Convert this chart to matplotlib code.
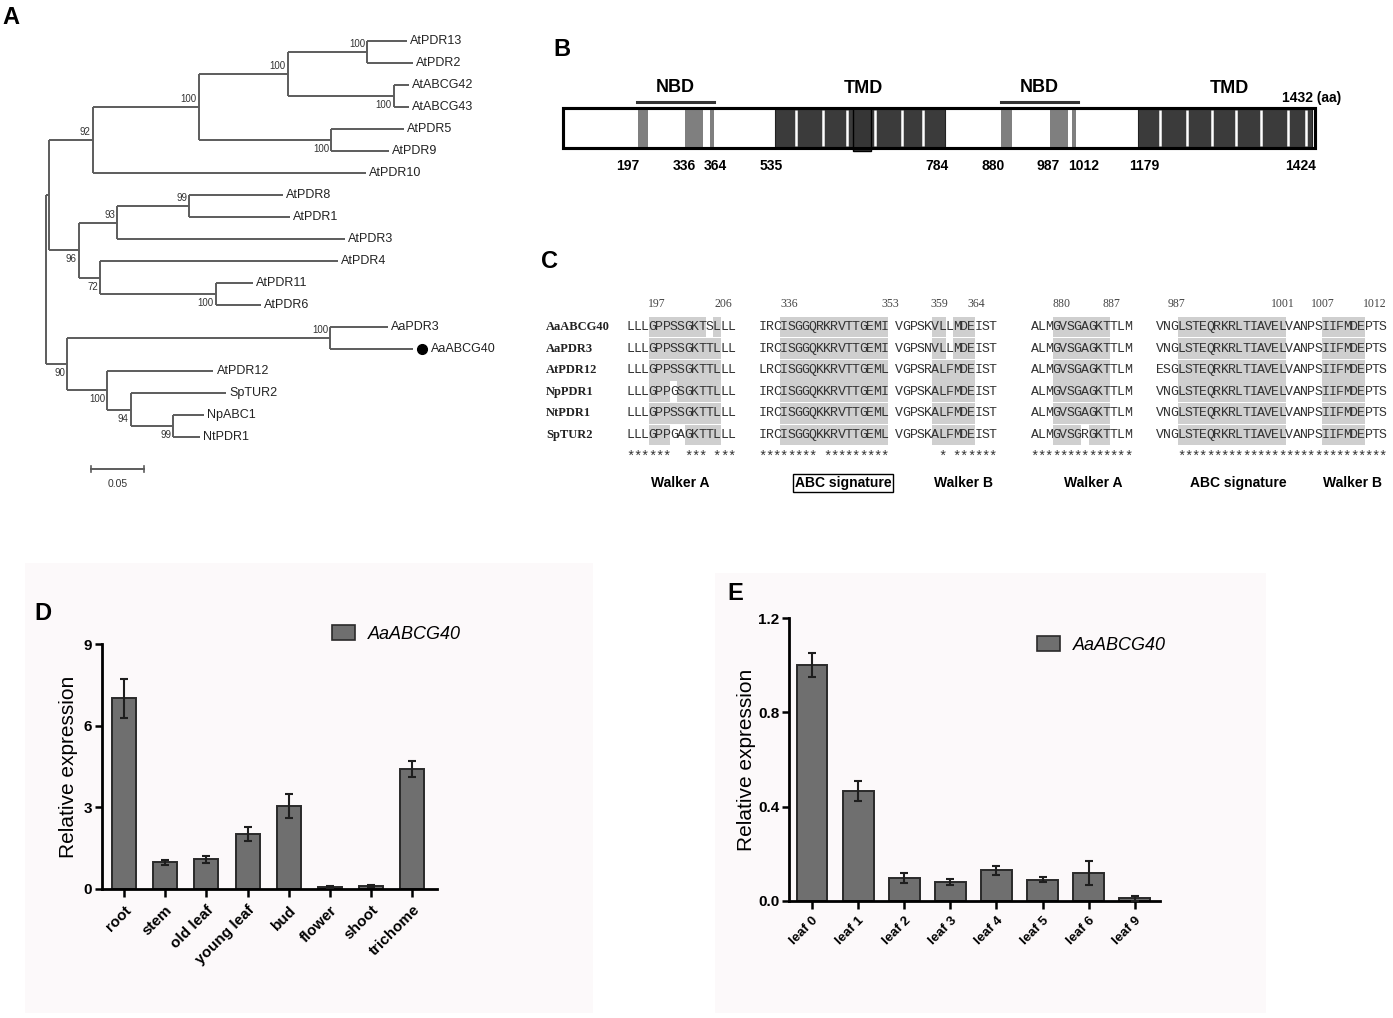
import matplotlib.pyplot as plt
from matplotlib.patches import Rectangle, Patch
from collections import defaultdict

plt.rcParams['font.family'] = ['Liberation Sans', 'DejaVu Sans']

# ---------------- data ----------------
# A: neighbour-joining tree, (parent, child, branch length)
tree_edges = [
    ('root', 'cA', 0.003), ('root', 'n90', 0.020),
    ('cA', 'n92', 0.041), ('cA', 'n96', 0.028),
    ('n92', 'n100a', 0.100), ('n92', 'AtPDR10', 0.258),
    ('n100a', 'n100b', 0.084), ('n100a', 'n100e', 0.125),
    ('n100b', 'n100c', 0.075), ('n100b', 'n100d', 0.100),
    ('n100c', 'AtPDR13', 0.038), ('n100c', 'AtPDR2', 0.043),
    ('n100d', 'AtABCG42', 0.014), ('n100d', 'AtABCG43', 0.014),
    ('n100e', 'AtPDR5', 0.069), ('n100e', 'AtPDR9', 0.055),
    ('n96', 'n93', 0.036), ('n96', 'n72', 0.020),
    ('n93', 'n99a', 0.068), ('n93', 'AtPDR3', 0.215),
    ('n99a', 'AtPDR8', 0.089), ('n99a', 'AtPDR1', 0.095),
    ('n72', 'AtPDR4', 0.224), ('n72', 'n100f', 0.109),
    ('n100f', 'AtPDR11', 0.035), ('n100f', 'AtPDR6', 0.043),
    ('n90', 'n100g', 0.248), ('n90', 'n100h', 0.038),
    ('n100g', 'AaPDR3', 0.055), ('n100g', 'AaABCG40', 0.078),
    ('n100h', 'AtPDR12', 0.100), ('n100h', 'n94', 0.022),
    ('n94', 'SpTUR2', 0.090), ('n94', 'n99b', 0.040),
    ('n99b', 'NpABC1', 0.029), ('n99b', 'NtPDR1', 0.025),
]
bootstrap = {'n92': '92', 'n100a': '100', 'n100b': '100', 'n100c': '100',
             'n100d': '100', 'n100e': '100', 'n96': '96', 'n93': '93',
             'n99a': '99', 'n72': '72', 'n100f': '100', 'n90': '90',
             'n100g': '100', 'n100h': '100', 'n94': '94', 'n99b': '99'}
boot_above = ['n92', 'n100a', 'n100b', 'n100c', 'n93', 'n99a', 'n100g']
marked_gene = 'AaABCG40'
scale_len = 0.05

# B: domain structure
protein_len = 1432
nbd_motifs = [(143, 162), (234, 267), (280, 288), (834, 855), (927, 962), (969, 977)]
nbd_bars = [(142, 288), (834, 981)]
tmd_spans = [(404, 727), (1095, 1426)]
tmd_gaps = [444, 495, 541, 594, 646, 686, 1137, 1188, 1236, 1282, 1329, 1380, 1415]
b_marks = ['197', '336', '364', '535', '784', '880', '987', '1012', '1179', '1424']
b_mark_pos = [125, 231, 290, 397, 713, 819, 924, 992, 1107, 1405]

# C: alignment
seq_names = ['AaABCG40', 'AaPDR3', 'AtPDR12', 'NpPDR1', 'NtPDR1', 'SpTUR2']
blk1 = ['LLLGPPSSGKTSLLL', 'LLLGPPSSGKTTLLL', 'LLLGPPSSGKTTLLL',
        'LLLGPPGSGKTTLLL', 'LLLGPPSSGKTTLLL', 'LLLGPPGAGKTTLLL']
blk2 = ['IRCISGGQRKRVTTGEMI VGPSKVLLMDEIST', 'IRCISGGQKKRVTTGEMI VGPSNVLLMDEIST',
        'LRCISGGQKKRVTTGEML VGPSRALFMDEIST', 'IRCISGGQKKRVTTGEMI VGPSKALFMDEIST',
        'IRCISGGQKKRVTTGEML VGPSKALFMDEIST', 'IRCISGGQKKRVTTGEML VGPSKALFMDEIST']
blk3 = ['ALMGVSGAGKTTLM'] * 5 + ['ALMGVSGRGKTTLM']
blk4 = ['VNGLSTEQRKRLTIAVELVANPSIIFMDEPTS', 'VNGLSTEQRKRLTIAVELVANPSIIFMDEPTS',
        'ESGLSTEQRKRLTIAVELVANPSIIFMDEPTS', 'VNGLSTEQRKRLTIAVELVANPSIIFMDEPTS',
        'VNGLSTEQRKRLTIAVELVANPSIIFMDEPTS', 'VNGLSTEQRKRLTIAVELVANPSIIFMDEPTS']
stars = ['******  *** ***', '******** *********       * ******',
         '**************', '   ' + '*' * 29]
hl1 = [[(3, 10), (12, 12)], [(3, 12)], [(3, 12)], [(3, 5), (7, 12)], [(3, 12)], [(3, 5), (8, 12)]]
hl2 = [[(3, 17), (24, 25), (27, 29)]] * 2 + [[(3, 17), (24, 29)]] * 4
hl3 = [[(3, 10)]] * 5 + [[(3, 6), (8, 10)]]
hl4 = [[(3, 17), (23, 28)]] * 6
res_labels = [['197', '206'], ['336', '353', '359', '364'], ['880', '887'], ['987', '1001', '1007', '1012']]
res_cols = [[3.7, 12.9], [3.8, 17.8, 24.6, 29.7], [3.8, 10.7], [2.3, 17.1, 22.7, 29.9]]
motifs = ['Walker A', 'ABC signature', 'Walker B', 'Walker A', 'ABC signature', 'Walker B']
motif_x = [7.4, 30.0, 46.7, 64.7, 84.9, 100.8]

# D: tissues
tissues = ['root', 'stem', 'old leaf', 'young leaf', 'bud', 'flower', 'shoot', 'trichome']
tissue_expr = [7.00, 0.98, 1.10, 2.02, 3.06, 0.07, 0.10, 4.41]
tissue_err = [0.70, 0.10, 0.13, 0.25, 0.44, 0.03, 0.04, 0.28]

# E: leaf ages
leaves = ['leaf 0', 'leaf 1', 'leaf 2', 'leaf 3', 'leaf 4', 'leaf 5', 'leaf 6', 'leaf 9']
leaf_expr = [1.000, 0.467, 0.099, 0.081, 0.130, 0.091, 0.119, 0.011]
leaf_err = [0.050, 0.043, 0.021, 0.013, 0.020, 0.010, 0.050, 0.012]

# ---------------- figure ----------------
W, H = 1393, 1018
fig = plt.figure(figsize=(W / 100, H / 100), dpi=100)


def px_axes(x0, y0, x1, y1):
    return fig.add_axes([x0 / W, 1 - y1 / H, (x1 - x0) / W, (y1 - y0) / H])


def panel_letter(x, y, s):
    fig.text(x / W, 1 - y / H, s, fontsize=17, fontweight='bold', ha='center', va='center')


# ---- A: tree ----
axA = px_axes(0, 0, 540, 500)
axA.set_xlim(-46 / 1060, 494 / 1060)
axA.set_ylim((500 - 41) / 22, -41 / 22)
axA.axis('off')

children = defaultdict(list)
for p, c, l in tree_edges:
    children[p].append((c, l))
xs, ys = {'root': 0.0}, {}
leaf_order = []


def place(node):
    if node not in children:
        ys[node] = len(leaf_order)
        leaf_order.append(node)
        return
    for c, l in children[node]:
        xs[c] = xs[node] + l
        place(c)
    ys[node] = (ys[children[node][0][0]] + ys[children[node][-1][0]]) / 2


place('root')
tree_col = '#5c5c5c'
for node, kids in children.items():
    axA.plot([xs[node]] * 2, [ys[kids[0][0]], ys[kids[-1][0]]], color=tree_col, lw=1.4,
             solid_capstyle='butt')
    for c, l in kids:
        axA.plot([xs[node], xs[c]], [ys[c]] * 2, color=tree_col, lw=1.4, solid_capstyle='butt')
for node, txt in bootstrap.items():
    if node in boot_above:
        axA.annotate(txt, (xs[node], ys[node]), xytext=(-2, 3), textcoords='offset pixels',
                     ha='right', va='bottom', fontsize=7, color='#333333')
    else:
        axA.annotate(txt, (xs[node], ys[node]), xytext=(-2, -4), textcoords='offset pixels',
                     ha='right', va='top', fontsize=7, color='#333333')
for leaf in leaf_order:
    dx = 3
    if leaf == marked_gene:
        axA.plot(xs[leaf] + 9 / 1060, ys[leaf], 'o', color='black', ms=7)
        dx = 18
    axA.annotate(leaf, (xs[leaf], ys[leaf]), xytext=(dx, 0), textcoords='offset pixels',
                 ha='left', va='center', fontsize=9, color='#222222')
sb_x, sb_y = 45 / 1060, (469 - 41) / 22
axA.plot([sb_x, sb_x + scale_len], [sb_y, sb_y], color=tree_col, lw=1.4)
axA.plot([sb_x] * 2, [sb_y - 0.15, sb_y + 0.15], color=tree_col, lw=1.2)
axA.plot([sb_x + scale_len] * 2, [sb_y - 0.15, sb_y + 0.15], color=tree_col, lw=1.2)
axA.text(sb_x + scale_len / 2, sb_y + 0.45, str(scale_len), ha='center', va='top',
         fontsize=7.5, color='#333333')
panel_letter(11, 18, 'A')

# ---- B: domain diagram ----
axB = px_axes(555, 70, 1360, 180)
sx = 1431 / 752
axB.set_xlim(1 + (555 - 563) * sx, 1 + (1360 - 563) * sx)
axB.set_ylim((148 - 180) / 40, (148 - 70) / 40)
axB.axis('off')
axB.add_patch(Rectangle((1, 0), protein_len - 1, 1, fc='white', ec='black', lw=2.2, zorder=1))
for a, b in nbd_motifs:
    axB.add_patch(Rectangle((a, 0.03), b - a, 0.94, fc='#7f7f7f', ec='none', zorder=2))
for a, b in tmd_spans:
    axB.add_patch(Rectangle((a, 0.02), b - a, 0.96, fc='#3b3b3b', ec='#222222', lw=0.8, zorder=2))
axB.vlines(tmd_gaps, 0.04, 0.96, colors='white', lw=1.8, zorder=3)
axB.add_patch(Rectangle((552, -0.07), 36, 1.07, fc='#363636', ec='black', lw=1.0, zorder=4))
axB.add_patch(Rectangle((1, 0), protein_len - 1, 1, fc='none', ec='black', lw=2.2, zorder=5))
for a, b in nbd_bars:
    axB.plot([a, b], [1.15, 1.15], color='#333333', lw=2.2)
    axB.text((a + b) / 2, 1.5, 'NBD', ha='center', va='center', fontsize=13, fontweight='bold')
for a, b in tmd_spans:
    axB.text((a + b) / 2 + 8, 1.48, 'TMD', ha='center', va='center', fontsize=13, fontweight='bold')
axB.text(1425, 1.25, '%d (aa)' % protein_len, ha='center', va='center', fontsize=10,
         fontweight='bold')
for s, x in zip(b_marks, b_mark_pos):
    axB.text(x, -0.45, s, ha='center', va='center', fontsize=10, fontweight='bold')
panel_letter(562, 50, 'B')

# ---- C: alignment ----
axC = px_axes(540, 285, 1393, 500)
cw, rh = 7.2, 21.6
axC.set_xlim((540 - 627) / cw, (1393 - 627) / cw)
axC.set_ylim((500 - 327) / rh, (285 - 327) / rh)
axC.axis('off')
blocks = [blk1, blk2, blk3, blk4]
highlights = [hl1, hl2, hl3, hl4]
block_start = [0.0, 18.3, 56.1, 73.5]
for i, name in enumerate(seq_names):
    axC.text((546 - 627) / cw, i, name, ha='left', va='center', fontsize=9,
             fontweight='bold', family='Liberation Serif', color='#222222')
for b, seqs in enumerate(blocks):
    x0 = block_start[b]
    for r, seq in enumerate(seqs):
        for c0, c1 in highlights[b][r]:
            axC.add_patch(Rectangle((x0 + c0, r - 0.48), c1 - c0 + 1, 0.96, fc='#cfcfcf',
                                    ec='none', zorder=0))
        for k, ch in enumerate(seq):
            axC.text(x0 + k + 0.5, r, ch, ha='center', va='center', fontsize=9.5,
                     family='Liberation Mono', color='#333333')
    for k, ch in enumerate(stars[b]):
        if ch == '*':
            axC.text(x0 + k + 0.5, 6.0, '*', ha='center', va='center', fontsize=10,
                     family='Liberation Mono', color='#333333')
    for lab, col in zip(res_labels[b], res_cols[b]):
        axC.text(x0 + col + 0.5, -1.06, lab, ha='center', va='center', fontsize=8.5,
                 family='Liberation Serif', color='#444444')
for i, (m, x) in enumerate(zip(motifs, motif_x)):
    kw = {}
    if i == 1:
        kw['bbox'] = dict(boxstyle='square,pad=0.12', fc='white', ec='black', lw=1.0)
    axC.text(x, 7.22, m, ha='center', va='center', fontsize=10, fontweight='bold', **kw)
panel_letter(550, 261, 'C')

# ---- D / E: expression ----
bg = '#fcf9fa'
fig.add_artist(Rectangle((25 / W, 1 - 1013 / H), 568 / W, 450 / H, transform=fig.transFigure,
                         fc=bg, ec='none', zorder=-5))
fig.add_artist(Rectangle((715 / W, 1 - 1013 / H), 551 / W, 440 / H, transform=fig.transFigure,
                         fc=bg, ec='none', zorder=-5))

bar_col, edge_col = '#6f6f6f', '#2a2a2a'


def expr_panel(ax, cats, vals, errs, width, yticks, ylabels, xfs, legxy, labx):
    xpos = list(range(len(cats)))
    ax.bar(xpos, vals, width=width, color=bar_col, edgecolor=edge_col, lw=1.4, zorder=2)
    ax.errorbar(xpos, vals, yerr=errs, fmt='none', ecolor='#1e1e1e', elinewidth=1.5,
                capsize=3.2, capthick=1.5, zorder=3)
    ax.set_facecolor('none')
    for sp in ['top', 'right']:
        ax.spines[sp].set_visible(False)
    for sp in ['left', 'bottom']:
        ax.spines[sp].set_linewidth(2.0)
    ax.set_ylim(yticks[0], yticks[-1])
    ax.set_yticks(yticks)
    ax.set_yticklabels(ylabels, fontsize=11, fontweight='bold')
    ax.set_xticks(xpos)
    ax.set_xticklabels(cats, fontsize=xfs, fontweight='bold', rotation=45, ha='right',
                       va='top', rotation_mode='anchor')
    ax.tick_params(axis='y', direction='out', length=5, width=1.8, pad=2)
    ax.tick_params(axis='x', direction='out', length=6, width=1.8, pad=4)
    ax.set_ylabel('Relative expression', fontsize=15, va='center')
    ax.yaxis.set_label_coords(labx, 0.5)
    ax.legend(handles=[Patch(fc=bar_col, ec=edge_col, lw=1.2, label='AaABCG40')],
              loc='center left', bbox_to_anchor=legxy, frameon=False, borderpad=0,
              borderaxespad=0, handlelength=1.3, handleheight=0.85, handletextpad=0.7,
              prop={'size': 13, 'style': 'italic'})


axD = px_axes(102, 644, 437, 889)
axD.set_xlim((102 - 124) / 41.2, (437 - 124) / 41.2)
expr_panel(axD, tissues, tissue_expr, tissue_err, 0.58, [0, 3, 6, 9], ['0', '3', '6', '9'],
           11, ((332 - 102) / 335, (889 - 634) / 245), (68 - 102) / 335)
panel_letter(43, 613, 'D')

axE = px_axes(789, 618, 1160, 901)
axE.set_xlim((789 - 812) / 46.1, (1160 - 812) / 46.1)
expr_panel(axE, leaves, leaf_expr, leaf_err, 0.67, [0, 0.4, 0.8, 1.2],
           ['0.0', '0.4', '0.8', '1.2'], 9.5, ((1037 - 789) / 371, (901 - 645) / 283),
           (747 - 789) / 371)
panel_letter(735, 593, 'E')

fig.savefig('out.png', dpi=100)
